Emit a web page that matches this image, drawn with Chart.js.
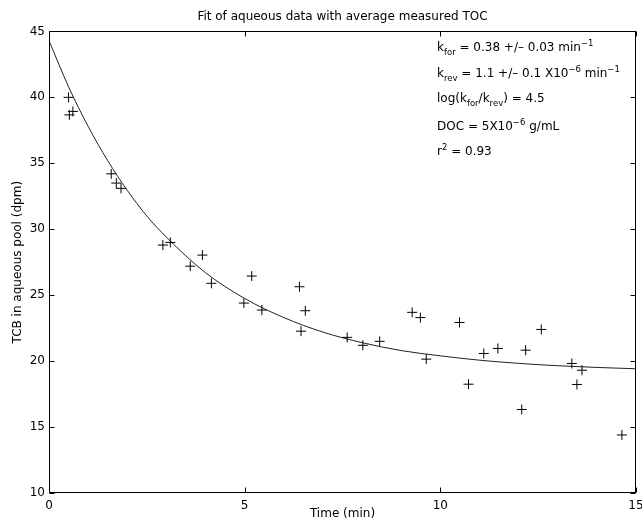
<!DOCTYPE html>
<html>
<head>
<meta charset="utf-8">
<script src="https://cdn.jsdelivr.net/npm/chart.js@4/dist/chart.umd.min.js"></script>
<style>
  body { margin: 0; background: #fff; }
  canvas { display: block; }
</style>
</head>
<body>
<canvas id="fitChart" width="642" height="527"></canvas>
<script>
const timeMin = [0.50, 0.52, 0.61, 1.59, 1.72, 1.84, 2.91, 3.10, 3.61, 3.92, 4.15, 4.98, 5.18, 5.44,
                 6.40, 6.44, 6.55, 7.62, 8.02, 8.45, 9.28, 9.49, 9.64, 10.49, 10.72, 11.11, 11.47,
                 12.08, 12.18, 12.58, 13.36, 13.49, 13.62, 14.64];
const tcbDpm = [40.0, 38.67, 38.93, 34.2, 33.5, 33.1, 28.8, 29.0, 27.2, 28.04, 25.9, 24.4, 26.45, 23.87,
                25.64, 22.27, 23.82, 21.8, 21.2, 21.5, 23.7, 23.3, 20.15, 22.93, 18.25, 20.58, 20.96,
                16.33, 20.83, 22.4, 19.82, 18.23, 19.31, 14.4];

// Fitted curve
const fitTime = [0, 0.5, 1, 1.5, 2, 2.5, 3, 4, 5, 6, 7, 8, 9, 10, 11, 12, 13, 14, 15];
const fitTcb = [44.3, 40.8, 37.8, 35.2, 32.95, 31.0, 29.4, 26.7, 24.75, 23.3, 22.2, 21.4, 20.8,
                20.4, 20.07, 19.83, 19.65, 19.52, 19.42];

const xTicks = [0, 5, 10, 15];
const yTicks = [10, 15, 20, 25, 30, 35, 40, 45];

const FONT = '"DejaVu Sans", Arial, sans-serif';

// Draw a line of text with sub / superscript pieces
function drawRichText(ctx, x, y, parts) {
    parts.forEach(p => {
        let size = 12, dy = 0;
        if (p.sub) { size = 8.5; dy = 4; }
        if (p.sup) { size = 8.5; dy = -5; }
        ctx.font = size + 'px ' + FONT;
        ctx.fillText(p.t, x, y + dy);
        x += ctx.measureText(p.t).width;
    });
}

// Box and inward tick marks, MATLAB style
const boxPlugin = {
    id: 'boxPlugin',
    afterDatasetsDraw(chart) {
        const { ctx, chartArea: a, scales: { x, y } } = chart;
        ctx.save();
        ctx.strokeStyle = '#000';
        ctx.lineWidth = 1;
        const L = Math.round(a.left) + 0.5, R = Math.round(a.right) - 0.5;
        const T = Math.round(a.top) + 0.5, B = Math.round(a.bottom) - 0.5;
        ctx.strokeRect(L, T, R - L, B - T);
        ctx.beginPath();
        xTicks.forEach(v => {
            const px = Math.round(x.getPixelForValue(v)) + 0.5;
            ctx.moveTo(px, B); ctx.lineTo(px, B - 5);
            ctx.moveTo(px, T); ctx.lineTo(px, T + 5);
        });
        yTicks.forEach(v => {
            const py = Math.round(y.getPixelForValue(v)) + 0.5;
            ctx.moveTo(L, py); ctx.lineTo(L + 5, py);
            ctx.moveTo(R, py); ctx.lineTo(R - 5, py);
        });
        ctx.stroke();

        // Fit parameters
        ctx.fillStyle = '#000';
        ctx.textBaseline = 'alphabetic';
        const tx = 437;
        drawRichText(ctx, tx, 51, [{ t: 'k' }, { t: 'for', sub: true }, { t: ' = 0.38 +/\u2013 0.03 min' }, { t: '\u22121', sup: true }]);
        drawRichText(ctx, tx, 77, [{ t: 'k' }, { t: 'rev', sub: true }, { t: ' = 1.1 +/\u2013 0.1 X10' }, { t: '\u22126', sup: true }, { t: ' min' }, { t: '\u22121', sup: true }]);
        drawRichText(ctx, tx, 102, [{ t: 'log(k' }, { t: 'for', sub: true }, { t: '/k' }, { t: 'rev', sub: true }, { t: ') = 4.5' }]);
        drawRichText(ctx, tx, 130, [{ t: 'DOC = 5X10' }, { t: '\u22126', sup: true }, { t: ' g/mL' }]);
        drawRichText(ctx, tx, 155, [{ t: 'r' }, { t: '2', sup: true }, { t: ' = 0.93' }]);
        ctx.restore();
    }
};

new Chart(document.getElementById('fitChart'), {
    type: 'scatter',
    data: {
        datasets: [
            {
                label: 'Measured',
                data: timeMin.map((t, i) => ({ x: t, y: tcbDpm[i] })),
                pointStyle: 'cross',
                pointRadius: 5,
                pointBorderWidth: 1,
                borderColor: '#000',
                backgroundColor: '#000'
            },
            {
                label: 'Fit',
                data: fitTime.map((t, i) => ({ x: t, y: fitTcb[i] })),
                showLine: true,
                pointRadius: 0,
                borderColor: '#222',
                borderWidth: 1,
                cubicInterpolationMode: 'monotone'
            }
        ]
    },
    options: {
        responsive: false,
        animation: false,
        layout: { padding: { left: 0, right: 5, top: 0, bottom: 6 } },
        plugins: {
            legend: { display: false },
            tooltip: { enabled: false },
            title: {
                display: true,
                fullSize: false,
                text: 'Fit of aqueous data with average measured TOC',
                color: '#000',
                font: { family: FONT, size: 12, weight: 'normal' },
                padding: { top: 10, bottom: 7 }
            }
        },
        scales: {
            x: {
                type: 'linear',
                min: 0,
                max: 15,
                afterBuildTicks: s => { s.ticks = xTicks.map(v => ({ value: v })); },
                afterFit: s => { s.height = 28; s.paddingRight = 0; s.paddingLeft = 0; },
                grid: { display: false, drawTicks: false },
                border: { display: false },
                ticks: { color: '#000', font: { family: FONT, size: 12 }, padding: 6, maxRotation: 0 },
                title: { display: true, text: 'Time (min)', color: '#000', font: { family: FONT, size: 12 }, padding: 0 }
            },
            y: {
                min: 10,
                max: 45,
                afterBuildTicks: s => { s.ticks = yTicks.map(v => ({ value: v })); },
                afterFit: s => { s.width = 49; },
                grid: { display: false, drawTicks: false },
                border: { display: false },
                ticks: { color: '#000', font: { family: FONT, size: 12 }, padding: 4 },
                title: { display: true, text: 'TCB in aqueous pool (dpm)', color: '#000', font: { family: FONT, size: 12 }, padding: { top: 11, bottom: 0 } }
            }
        }
    },
    plugins: [boxPlugin]
});
</script>
</body>
</html>
